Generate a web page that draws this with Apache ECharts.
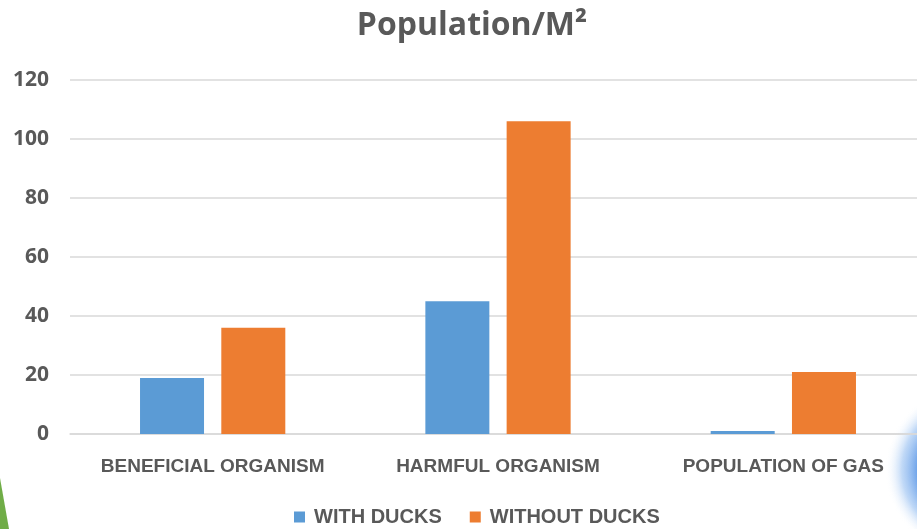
<!DOCTYPE html>
<html>
<head>
<meta charset="utf-8">
<script src="https://cdn.jsdelivr.net/npm/echarts@6/dist/echarts.min.js"></script>
<style>
  html, body { margin: 0; padding: 0; background: #fff; overflow: hidden; }
  #chart0 { width: 926px; height: 529px; }
</style>
</head>
<body>
<div id="chart0"></div>
<script>
var categories = ['BENEFICIAL ORGANISM', 'HARMFUL ORGANISM', 'POPULATION OF GAS']
var seriesNames = ['WITH DUCKS', 'WITHOUT DUCKS']
var withDucks = [19, 45, 1]
var withoutDucks = [36, 106, 21]
var yTicks = [0, 120, 20]

;(function () {
  var chart0 = echarts.init(document.getElementById('chart0'))
  var grey = '#595959'
  var narrow = '"Liberation Sans Narrow", "Liberation Sans", Arial, sans-serif'
  var option0 = {
    animation: false,
    textStyle: {
      fontFamily: 'Lato, "Open Sans", sans-serif'
    },
    title: {
      text: 'Population/M²',
      left: 467,
      textAlign: 'center',
      top: 5,
      textStyle: {
        color: grey,
        fontSize: 32,
        fontWeight: 'bold',
        fontFamily: '"Open Sans", "Noto Sans", sans-serif'
      }
    },
    legend: {
      bottom: -3,
      left: 289,
      itemWidth: 11,
      itemHeight: 11,
      itemGap: 28,
      icon: 'rect',
      textStyle: {
        color: grey,
        fontSize: 20,
        fontWeight: 'bold',
        fontFamily: narrow,
        padding: [0, 0, 0, 4]
      },
      data: seriesNames
    },
    grid: {
      left: 70,
      right: 0,
      top: 80,
      bottom: 95,
      containLabel: false
    },
    xAxis: {
      type: 'category',
      data: categories,
      axisTick: { show: false },
      axisLine: { lineStyle: { color: '#d9d9d9', width: 1.5 } },
      axisLabel: {
        interval: 0,
        color: grey,
        fontSize: 19,
        fontWeight: 'bold',
        fontFamily: narrow,
        margin: 23
      }
    },
    yAxis: {
      type: 'value',
      min: yTicks[0],
      max: yTicks[1],
      interval: yTicks[2],
      axisLine: { show: false },
      axisTick: { show: false },
      splitLine: { lineStyle: { color: '#d9d9d9', width: 1.5 } },
      axisLabel: {
        color: grey,
        fontSize: 21,
        fontWeight: 'bold',
        margin: 21,
        fontFamily: '"Open Sans", "Noto Sans", sans-serif'
      }
    },
    series: [{
      name: seriesNames[0],
      type: 'bar',
      data: withDucks,
      barWidth: 64,
      barGap: '27%',
      itemStyle: { color: '#5b9bd5' }
    }, {
      name: seriesNames[1],
      type: 'bar',
      data: withoutDucks,
      barWidth: 64,
      barGap: '27%',
      itemStyle: { color: '#ed7d31' }
    }],
    graphic: [{
      type: 'polygon',
      silent: true,
      shape: { points: [[0, 478], [9, 529], [0, 529]] },
      style: { fill: '#70ad47' }
    }, {
      type: 'circle',
      silent: true,
      z: -1,
      shape: { cx: 970, cy: 470, r: 85 },
      style: {
        fill: {
          type: 'radial',
          x: 0.5, y: 0.5, r: 0.5,
          colorStops: [
            { offset: 0, color: 'rgba(25,90,200,1)' },
            { offset: 0.55, color: 'rgba(60,130,225,0.95)' },
            { offset: 0.8, color: 'rgba(140,185,240,0.55)' },
            { offset: 1, color: 'rgba(255,255,255,0)' }
          ]
        }
      }
    }]
  }
  chart0.setOption(option0)
})()
</script>
</body>
</html>
